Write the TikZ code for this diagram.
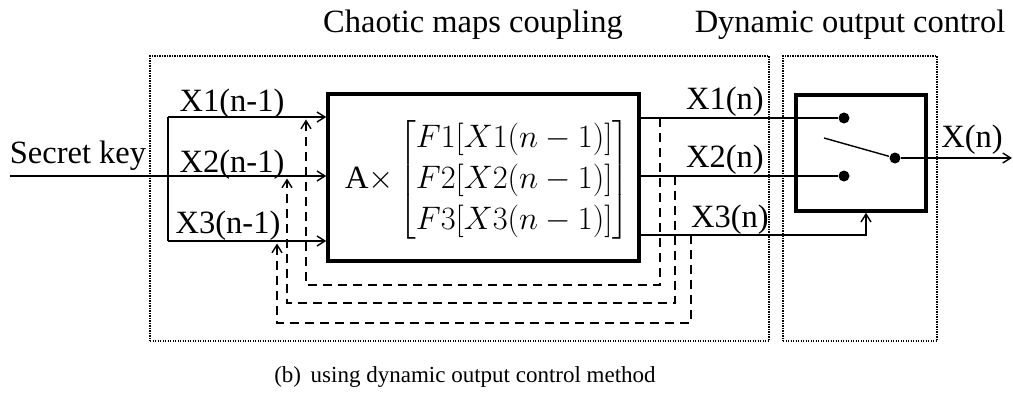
\documentclass[tikz,border=0pt]{standalone}
\usepackage{fix-cm}
\usepackage{amsmath}
\usepackage{fontspec}
\setmainfont{Liberation Serif}
\usetikzlibrary{arrows.meta,positioning}

\begin{document}
\begin{tikzpicture}[x=1pt,y=-1pt,
    font=\fontsize{32.5}{40}\selectfont,
    line width=1.4pt,
    >={Straight Barb[length=8pt,width=10pt]},
    block/.style={draw, line width=3.5pt, inner sep=0pt},
    region/.style={draw, line width=1.2pt, dash pattern=on 1.2pt off 1.3pt, inner sep=0pt},
    feedback/.style={->, dash pattern=on 9pt off 6pt},
    contact/.style={circle, fill, inner sep=0pt, minimum size=11pt},
    lbl/.style={anchor=base, inner sep=0pt}]
    \useasboundingbox (0,0) rectangle (1013,396);

    % the two regions and their titles
    \node[region, minimum width=619pt, minimum height=285pt] (chaos) at (459.5,198.5) {};
    \node[region, minimum width=154pt, minimum height=285pt] (dyn) at (860,198.5) {};
    \node[lbl] (chaostitle) at (473,33) {Chaotic maps coupling};
    \node[lbl] (dyntitle) at (850,33) {Dynamic output control};

    % coupled maps
    \node[block, minimum width=311pt, minimum height=167pt] (map) at (483.5,177.5) {};
    \renewcommand{\arraystretch}{1.03}
    \node[inner sep=0pt] (eq) at (487,180)
        {A$\times\begin{bmatrix} F1[X1(n-1)]\\ F2[X2(n-1)]\\ F3[X3(n-1)] \end{bmatrix}$};

    % switch
    \node[block, minimum width=130pt, minimum height=116pt] (sw) at (861,153) {};
    \node[contact] (c1) at (844,118) {};
    \node[contact] (c2) at (844,176) {};
    \node[contact] (pivot) at (895,158) {};
    \coordinate (lever) at (824,138);
    \coordinate (xout) at (1012,158);

    % inputs
    \coordinate (key) at (10,176);
    \coordinate (in1) at (168,117);
    \coordinate (in3) at (168,241);
    \draw[->] (key) -- (key -| map.west);
    \draw[->] (in1) -- (in1 -| map.west);
    \draw[->] (in3) -- (in3 -| map.west);
    \draw (in1) -- (in3);

    % outputs
    \coordinate (t1) at (660,118);
    \coordinate (t2) at (675,176);
    \coordinate (t3) at (691,235);
    \draw (t1 -| map.east) -- (c1);
    \draw (t2 -| map.east) -- (c2);
    \draw[->] (t3 -| map.east) -| ([xshift=5pt]sw.south);
    \draw (lever) -- (pivot);
    \draw[->] (pivot) -- (xout);

    % feedback
    \coordinate (f1) at (306,119.5);
    \coordinate (f2) at (287,178.5);
    \coordinate (f3) at (277,243.5);
    \draw[feedback] (t1) -- ++(0,167) -| (f1);
    \draw[feedback] (t2) -- ++(0,127) -| (f2);
    \draw[feedback] (t3) -- ++(0,88) -| (f3);

    % labels
    \node[lbl] (keylbl) at (78,163) {Secret key};
    \node[lbl] (in1lbl) at (232,112) {X1(n-1)};
    \node[lbl] (in2lbl) at (232,172) {X2(n-1)};
    \node[lbl] (in3lbl) at (228,233) {X3(n-1)};
    \node[lbl] (out1lbl) at (725,110) {X1(n)};
    \node[lbl] (out2lbl) at (725,167) {X2(n)};
    \node[lbl] (out3lbl) at (730,227) {X3(n)};
    \node[lbl] (xlbl) at (972,147) {X(n)};
    \node[lbl, font=\fontsize{23}{28}\selectfont] (caption) at (465,382)
        {(b)\, using dynamic output control method};
\end{tikzpicture}
\end{document}
